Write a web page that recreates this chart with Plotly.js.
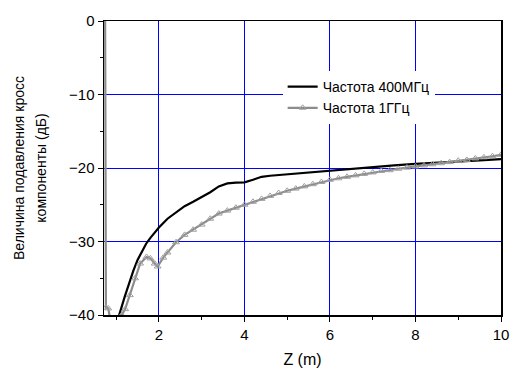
<!DOCTYPE html>
<html>
<head>
<meta charset="utf-8">
<script src="https://cdn.plot.ly/plotly-3.0.1.min.js"></script>
<style>html,body{margin:0;padding:0;background:#fff;}#chart{width:511px;height:371px;}</style>
</head>
<body>
<div id="chart"></div>
<script>
// Series 1: 400 MHz
const zBlack = [1.0, 1.07, 1.2, 1.3, 1.4, 1.5, 1.6, 1.7, 1.8, 1.9, 2.0, 2.2, 2.4, 2.6, 2.8, 3.0, 3.2, 3.4, 3.6, 3.8, 4.0, 4.2, 4.4, 4.6, 4.8, 5.0, 5.5, 6.0, 6.5, 7.0, 7.5, 8.0, 8.5, 9.0, 9.5, 10.0];
const dbBlack = [-43, -40, -37.5, -35.7, -34.0, -32.5, -31.3, -30.3, -29.5, -28.8, -28.1, -26.9, -26.0, -25.2, -24.6, -24.0, -23.3, -22.5, -22.1, -22.0, -21.95, -21.6, -21.2, -21.05, -20.95, -20.85, -20.6, -20.35, -20.1, -19.85, -19.65, -19.45, -19.25, -19.1, -18.95, -18.8];
// Series 2: 1 GHz
const zGray = [0.74, 0.76, 0.815, 0.9, 1.0, 1.13, 1.21, 1.32, 1.44, 1.56, 1.71, 1.8, 1.9, 1.97, 2.1, 2.2, 2.4, 2.6, 2.8, 3.0, 3.2, 3.4, 3.6, 3.8, 4.0, 4.2, 4.4, 4.6, 4.8, 5.0, 5.2, 5.4, 5.6, 5.8, 6.0, 6.2, 6.4, 6.6, 6.8, 7.0, 7.2, 7.4, 7.6, 7.8, 8.0, 8.2, 8.4, 8.6, 8.8, 9.0, 9.2, 9.4, 9.6, 9.8, 10.0];
const dbGray = [3, -39.0, -39.1, -42, -44, -40, -39.2, -37.3, -35.0, -33.0, -32.1, -32.3, -33.0, -33.4, -32.2, -31.5, -30.1, -29.1, -28.4, -27.7, -26.9, -26.2, -25.8, -25.4, -25.0, -24.6, -24.2, -23.8, -23.4, -23.1, -22.8, -22.5, -22.2, -21.9, -21.6, -21.4, -21.2, -21.0, -20.8, -20.6, -20.4, -20.3, -20.1, -19.95, -19.8, -19.65, -19.5, -19.35, -19.2, -19.0, -18.9, -18.7, -18.55, -18.4, -18.2];
const seriesNames = ["Частота 400МГц", "Частота 1ГГц"];
const xTitle = "Z (m)";
const yTitleLines = ["Величина подавления кросс", "компоненты (дБ)"];

const fam = "Arial, 'Liberation Sans', sans-serif";
const font = {family: fam, size: 15, color: "#000"};
const yTitle = yTitleLines.map(s => '<span style="font-size:14px">' + s + '</span>').join("<br>");

const traces = [
  {x: zBlack, y: dbBlack, name: seriesNames[0], mode: "lines", line: {color: "#000", width: 2.2}},
  {x: zGray, y: dbGray, name: seriesNames[1], mode: "lines+markers", line: {color: "#8c8c8c", width: 2.2},
   marker: {symbol: "triangle-up-open", size: 6, color: "#a0a0a0", line: {width: 1, color: "#a0a0a0"}}}
];

const layout = {
  width: 511, height: 371,
  margin: {l: 104, r: 10, t: 21, b: 56},
  paper_bgcolor: "#fff", plot_bgcolor: "#fff",
  font: font,
  showlegend: true,
  legend: {x: 0.45, y: 0.83, xanchor: "left", yanchor: "top", bgcolor: "#fff", borderwidth: 0, font: {family: fam, size: 14}, tracegroupgap: 0},
  xaxis: {
    range: [0.715, 10], tick0: 0, dtick: 2, showgrid: true, gridcolor: "#0000ff", gridwidth: 1,
    zeroline: false, showline: true, linecolor: "#000", linewidth: 1.5, mirror: true,
    ticks: "outside", ticklen: 5, tickcolor: "#000", tickfont: font,
    minor: {dtick: 1, ticks: "outside", ticklen: 3, tickcolor: "#000", showgrid: false},
    title: {text: xTitle, font: {family: fam, size: 16}, standoff: 12}
  },
  yaxis: {
    range: [-40, 0], dtick: 10, showgrid: true, gridcolor: "#0000ff", gridwidth: 1,
    zeroline: false, showline: true, linecolor: "#000", linewidth: 1.5, mirror: true,
    ticks: "outside", ticklen: 5, tickcolor: "#000", tickfont: font,
    minor: {dtick: 5, ticks: "outside", ticklen: 3, tickcolor: "#000", showgrid: false},
    title: {text: yTitle, font: {family: fam, size: 17}, standoff: 18}
  }
};

Plotly.newPlot("chart", traces, layout, {staticPlot: true, displayModeBar: false});
</script>
</body>
</html>
